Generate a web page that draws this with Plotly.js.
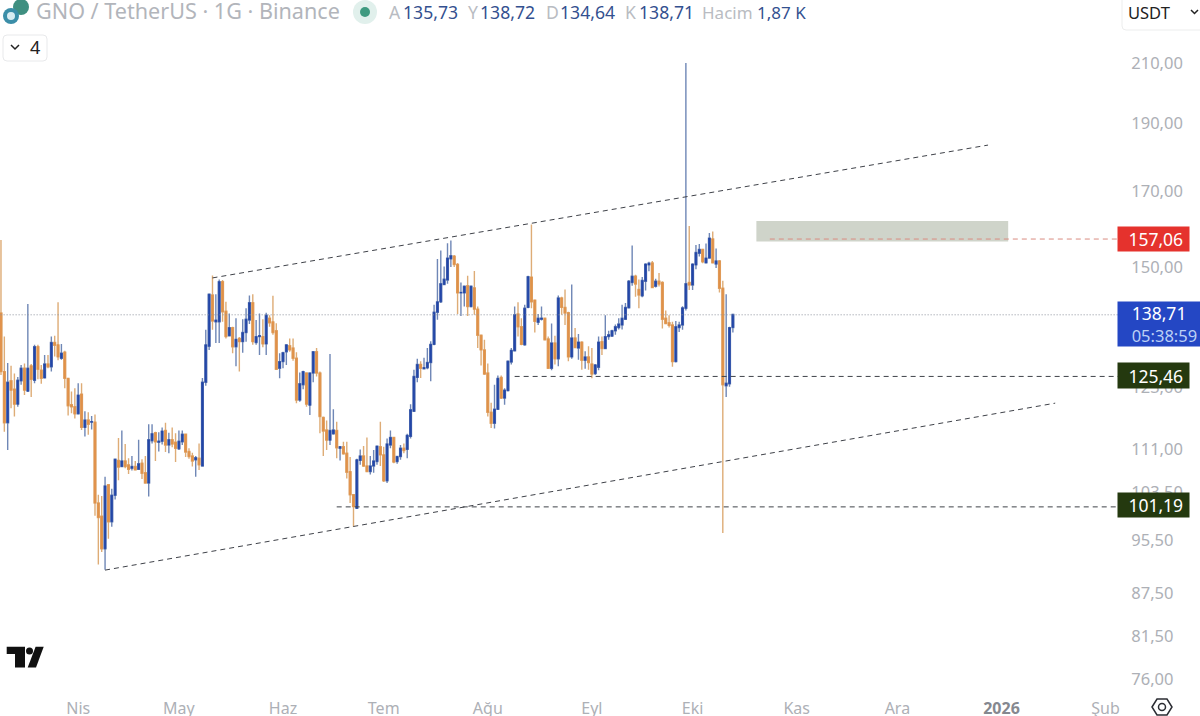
<!DOCTYPE html>
<html><head><meta charset="utf-8">
<script src="https://cdn.plot.ly/plotly-3.0.1.min.js"></script>
<style>html,body{margin:0;padding:0;background:#fff;overflow:hidden}#c{width:1200px;height:716px}</style>
</head><body><div id="c"></div>
<script>
const firstDay = '2025-03-09';
const opens = [139.0,126.2,116.0,124.3,122.6,119.6,124.3,126.9,122.2,127.4,
124.4,131.5,126.5,124.9,127.8,127.2,132.4,131.9,129.0,130.3,
124.8,119.5,119.1,117.7,121.6,115.1,116.5,116.1,116.1,101.6,
99.4,94.2,104.7,98.5,102.9,109.0,107.9,108.9,108.2,107.6,
107.9,107.4,108.5,106.8,105.0,112.6,114.1,112.3,112.5,114.5,
111.8,112.8,112.3,111.1,112.4,113.8,110.6,109.8,109.1,109.4,
108.0,124.0,131.6,143.2,137.0,137.0,146.4,139.4,133.9,135.7,
131.5,133.3,132.6,134.6,137.4,141.4,132.4,133.7,133.7,132.1,
137.8,137.0,135.0,126.9,128.3,130.4,131.7,131.2,129.0,120.4,
123.5,125.9,119.4,125.9,130.4,125.9,117.0,114.6,112.7,113.9,
114.5,111.2,111.5,110.3,107.0,103.0,100.7,109.0,109.8,108.0,
107.0,108.0,108.8,111.5,110.0,105.4,111.8,113.2,108.8,109.7,
111.2,111.0,113.4,118.2,125.0,127.7,126.8,127.0,128.1,132.0,
139.2,141.6,145.7,146.8,152.0,152.7,150.6,143.7,143.7,145.4,
140.5,144.9,139.9,134.0,130.8,125.9,118.0,115.9,118.6,125.0,
120.8,122.3,128.2,130.6,138.8,135.9,131.9,140.3,147.5,142.0,
136.9,137.6,137.8,133.2,126.9,132.3,128.9,142.5,140.3,139.1,
129.3,133.4,131.2,132.5,128.6,129.3,127.8,125.8,127.1,132.6,
131.1,133.7,133.8,135.0,135.7,136.3,137.6,140.2,146.2,147.7,
144.5,143.0,146.5,150.5,151.0,145.3,146.5,146.2,137.8,136.8,
136.3,128.3,135.7,136.3,140.1,146.2,145.6,150.5,153.4,154.4,
151.0,152.2,157.1,150.7,151.5,144.8,123.3,123.7,135.73];
const highs = [156.8,133.7,128.0,127.4,125.8,125.1,127.6,127.9,141.1,127.8,
131.9,131.9,127.6,129.7,129.7,133.7,133.9,141.5,132.1,130.6,
124.8,122.1,122.8,123.8,123.8,118.2,118.0,117.3,117.6,103.0,
102.8,106.1,104.7,104.0,109.2,113.1,114.5,112.0,109.4,109.8,
108.9,112.8,109.2,109.8,115.7,115.7,114.3,114.2,115.1,116.0,
114.1,115.1,114.0,114.5,114.5,113.9,111.2,110.4,109.8,112.1,
124.9,135.2,143.4,147.9,143.4,146.9,146.8,141.6,138.9,135.9,
137.8,133.6,137.6,140.1,143.1,143.4,137.4,138.9,137.6,139.1,
138.5,143.0,136.7,130.1,130.4,131.9,133.3,133.3,130.3,126.0,
126.4,125.9,125.9,130.4,131.2,126.2,117.2,116.4,129.9,118.6,
116.2,111.6,112.4,112.4,109.6,103.1,109.3,111.0,111.6,113.2,
109.8,110.9,111.6,116.2,111.5,113.0,114.5,113.3,109.8,111.8,
112.1,113.9,119.6,126.6,128.9,128.4,129.1,131.2,132.7,140.9,
152.0,154.1,150.1,156.0,156.7,153.0,151.0,146.2,145.3,147.8,
145.4,149.0,140.5,134.1,133.0,127.9,119.9,123.5,125.4,125.4,
122.8,128.4,131.2,140.5,141.5,137.8,140.9,147.8,160.9,142.1,
138.8,140.5,137.8,133.7,136.6,133.9,143.1,142.8,144.5,139.3,
145.7,135.6,134.3,132.7,130.5,131.6,131.2,127.8,133.7,133.7,
138.5,135.0,135.2,136.4,137.8,140.9,141.3,146.8,155.4,148.1,
146.9,147.5,150.9,151.3,151.5,147.1,148.5,146.5,139.6,138.5,
137.0,137.2,137.0,140.6,210.0,160.5,150.9,155.5,155.8,154.4,
155.9,158.6,159.0,154.6,151.7,146.6,143.4,135.9,138.72];
const lows = [125.5,114.3,110.9,118.8,117.2,119.1,123.5,121.4,122.0,121.0,
123.8,124.6,123.7,124.8,126.9,126.2,129.4,128.6,128.7,122.8,
117.4,117.8,116.8,117.6,114.6,113.4,113.7,114.7,99.5,91.8,
93.7,91.0,95.8,97.7,102.2,105.5,107.8,107.6,106.6,107.2,
107.2,107.3,105.7,104.9,102.7,112.1,108.9,110.6,111.9,110.5,
110.3,111.4,108.7,110.9,111.8,109.6,109.3,107.9,106.1,107.3,
107.9,123.3,130.8,135.2,132.3,132.3,137.0,133.3,133.7,130.1,
127.3,126.2,130.2,132.6,136.5,131.9,131.9,129.7,131.4,129.7,
135.9,134.1,126.7,124.8,126.9,127.6,130.4,128.5,119.8,120.1,
122.6,119.1,117.5,124.0,125.2,114.0,109.8,110.9,111.8,113.7,
109.4,109.0,110.0,105.8,101.6,97.7,100.6,108.2,107.8,106.9,
106.5,106.8,108.2,108.0,105.2,105.0,111.2,108.5,108.4,109.1,
110.3,109.4,113.0,118.1,124.0,124.9,126.7,126.7,124.2,131.8,
137.5,141.3,145.6,145.9,150.0,150.0,138.8,138.3,140.5,138.3,
140.3,138.6,131.2,127.5,125.5,117.2,115.0,114.9,118.5,120.6,
119.5,122.1,127.7,130.5,133.7,131.8,131.7,140.1,140.1,134.6,
136.3,137.3,132.9,126.8,126.5,127.7,127.3,138.6,136.3,128.4,
128.9,131.2,128.7,126.6,126.8,126.6,124.8,125.5,126.5,129.7,
131.0,133.0,133.7,134.1,135.3,135.3,137.4,140.1,145.4,142.8,
140.1,142.7,144.3,148.9,144.8,145.0,145.2,135.5,136.5,135.7,
127.2,128.1,134.7,135.2,139.6,144.4,144.4,149.4,152.6,150.9,
150.9,152.1,150.9,149.7,143.8,96.7,121.0,123.1,134.64];
const closes = [126.2,116.0,124.0,122.4,119.6,124.4,126.9,122.4,126.9,124.6,
131.5,126.7,124.8,127.8,127.2,132.4,131.8,129.3,130.1,124.8,
119.3,119.1,117.7,121.4,115.1,116.5,115.7,116.2,101.6,99.2,
94.2,104.5,98.5,102.9,109.2,107.8,108.9,107.9,107.4,107.9,
107.3,108.4,106.7,105.0,112.8,113.9,112.4,112.5,114.4,111.8,
112.8,112.0,111.2,112.5,113.8,110.5,109.7,108.9,109.5,108.2,
124.0,131.9,143.4,137.2,137.4,146.4,139.3,133.7,135.7,131.5,
133.1,132.6,134.6,137.6,141.4,132.6,133.7,133.9,132.1,138.5,
136.8,134.6,126.7,128.3,130.2,131.9,130.8,129.0,120.4,123.7,
126.2,119.6,125.9,130.4,125.9,117.2,114.4,112.7,114.5,114.6,
111.3,111.5,110.2,106.9,103.0,101.0,109.1,109.8,108.0,107.0,
108.0,108.9,111.6,110.0,105.4,112.0,113.2,108.7,109.7,111.2,
110.8,113.6,118.5,125.2,127.7,126.9,127.0,128.1,132.0,139.2,
141.6,145.9,147.0,152.2,152.8,150.6,143.7,143.8,145.3,140.5,
145.3,139.9,134.0,130.8,125.7,118.0,115.9,118.6,124.8,120.8,
122.4,128.4,130.7,138.6,135.9,132.0,140.1,147.6,141.6,137.1,
137.8,137.8,133.0,126.9,132.3,128.9,142.5,140.3,139.0,129.3,
133.4,131.3,132.5,128.6,129.3,128.1,125.7,127.6,132.5,131.1,
133.7,134.1,135.0,135.9,136.5,137.8,140.3,146.5,147.7,145.8,
143.2,146.7,150.7,150.9,145.0,146.5,145.8,137.6,136.6,136.2,
128.3,135.9,136.3,140.2,145.9,145.6,150.7,153.6,154.4,151.3,
152.2,157.3,151.0,151.5,144.8,123.5,123.8,135.7,138.71];

const monthDates = ['2025-04-01','2025-05-01','2025-06-01','2025-07-01','2025-08-01','2025-09-01','2025-10-01','2025-11-01','2025-12-01','2026-01-01','2026-02-01'];
const monthLabels = ['Nis','May','Haz','Tem','Ağu','Eyl','Eki','Kas','Ara','<b style="color:#85888f">2026</b>','Şub'];
const priceTicks = [210,190,170,150,123,111,103.5,95.5,87.5,81.5,76];
const priceLabels = ['210,00','190,00','170,00','150,00','123,00','111,00','103,50','95,50','87,50','81,50','76,00'];

const dates = opens.map((_, i) => new Date(Date.parse(firstDay + 'T00:00:00Z') + i * 864e5).toISOString().slice(0, 10));
const BLUE = '#2447a8', ORANGE = '#e0924a', BLUEW = '#6f87b6', ORANGEW = '#deac76';
const GRAY = '#adb0b6', NAVY = '#33508f', FONT = '"Noto Sans", Roboto, sans-serif';
const W = 1118, H = 692;
const X = p => p / W, Y = p => 1 - p / H;

const wicks = {type:'candlestick', x:dates, open:opens, high:highs, low:lows, close:closes,
  increasing:{line:{color:BLUEW,width:1.4},fillcolor:BLUEW}, decreasing:{line:{color:ORANGEW,width:1.4},fillcolor:ORANGEW},
  hoverinfo:'skip', showlegend:false};
const bodies = {type:'candlestick', x:dates, open:opens, close:closes,
  high:opens.map((o,i)=>Math.max(o,closes[i])), low:opens.map((o,i)=>Math.min(o,closes[i])),
  increasing:{line:{color:BLUE,width:0.6},fillcolor:BLUE}, decreasing:{line:{color:ORANGE,width:0.6},fillcolor:ORANGE},
  hoverinfo:'skip', showlegend:false};

const line = (x0,y0,x1,y1,color,dash) => ({type:'line',xref:'x',yref:'y',x0,y0,x1,y1,line:{color,width:1,dash}});
const dark = '#3f4249';
const shapes = [
  {type:'rect',xref:'x',yref:'y',x0:'2025-10-20',x1:'2026-01-03',y0:156.4,y1:161.8,fillcolor:'#cfd4ca',line:{width:0},layer:'below'},
  line('2025-05-11',147.3,'2025-12-28',183.4,dark,'5px,4px'),
  line('2025-04-09',90.95,'2026-01-17',119.8,dark,'5px,4px'),
  line('2025-08-09',125.2,'2026-02-05',125.2,dark,'5px,4px'),
  line('2025-06-17',100.95,'2026-02-05',100.95,dark,'5px,4px'),
  line('2025-10-24',157.06,'2026-02-05',157.06,'#d98b80','5px,4px'),
  line('2025-03-08',138.6,'2026-02-05',138.6,'#8d929c','1px,2px')
];
const pc = (type,x0,y0,x1,y1,fill) => ({type,xref:'paper',yref:'paper',x0:X(x0),y0:Y(y0),x1:X(x1),y1:Y(y1),fillcolor:fill,line:{width:0}});
const poly = (pts,fill,stroke) => ({type:'path',xref:'paper',yref:'paper',
  path:'M'+pts.map(p=>X(p[0])+','+Y(p[1])).join('L')+'Z',fillcolor:fill,line:stroke?{color:stroke,width:1.5}:{width:0}});
const openPath = (pts,stroke,w) => ({type:'path',xref:'paper',yref:'paper',
  path:'M'+pts.map(p=>X(p[0])+','+Y(p[1])).join('L'),line:{color:stroke,width:w}});
shapes.push(
  // symbol logo and market dot
  pc('circle',13,-1,29,15,'#3f8f80'), pc('circle',3,8,19,24,'#3b8ea8'), pc('circle',7,12,15,20,'#d8ecf2'),
  pc('circle',353,0,377,24,'#e1f0ec'), pc('circle',360,7,370,17,'#3f9a80'),
  // TradingView mark
  poly([[6.7,646.7],[25,646.7],[25,667.5],[15,667.5],[15,654],[6.7,654]],'#111'),
  pc('circle',26,647.5,33,654.5,'#111'),
  poly([[35.6,646.7],[43.7,646.7],[36,667.5],[27.7,667.5]],'#111'),
  // settings icon
  poly([[1152,707],[1157,699],[1167,699],[1172,707],[1167,715],[1157,715]],'#fff','#2b2d33'),
  {type:'circle',xref:'paper',yref:'paper',x0:X(1158.5),x1:X(1165.5),y0:Y(703.5),y1:Y(710.5),line:{color:'#2b2d33',width:1.5}},
  // chevrons
  openPath([[11,45],[15,49],[19,45]],'#222',1.5),
  openPath([[1191,10],[1194.5,13.5],[1198,10]],'#222',1.5),
  // control boxes
  {type:'path',xref:'paper',yref:'paper',path:`M${X(7)},${Y(35)}L${X(43)},${Y(35)}Q${X(47)},${Y(35)} ${X(47)},${Y(39)}L${X(47)},${Y(57)}Q${X(47)},${Y(61)} ${X(43)},${Y(61)}L${X(7)},${Y(61)}Q${X(3)},${Y(61)} ${X(3)},${Y(57)}L${X(3)},${Y(39)}Q${X(3)},${Y(35)} ${X(7)},${Y(35)}Z`,line:{color:'#e8e9eb',width:1}},
  {type:'path',xref:'paper',yref:'paper',path:`M${X(1122)},${Y(-2)}L${X(1122)},${Y(26)}Q${X(1122)},${Y(30)} ${X(1126)},${Y(30)}L${X(1200)},${Y(30)}`,line:{color:'#eceded',width:1}}
);

const txt = (text,x,y,color,size,extra) => Object.assign({text,xref:'paper',yref:'paper',x:X(x),y:Y(y),xanchor:'left',yanchor:'middle',
  showarrow:false,font:{family:FONT,size,color},borderpad:0},extra||{});
const badge = (text,price,bg,w,h,shift,al) => ({text,xref:'paper',yref:'y',x:1,xshift:-1,y:Math.log10(price),yshift:shift||0,
  xanchor:'left',yanchor:'middle',showarrow:false,bgcolor:bg,width:w,height:h,align:al||'center',borderpad:0,
  font:{family:FONT,size:17.5,color:'#fff'}});
const NB = '\u00A0';
const annotations = [
  txt('GNO / TetherUS · 1G · Binance',35,11,'#b2b5bb',21.6),
  txt('A',388,12,'#b9bcc2',17.6), txt('135,73',402,12,NAVY,17.6),
  txt('Y',467,12,'#b9bcc2',17.6), txt('138,72',479,12,NAVY,17.6),
  txt('D',545,12,'#b9bcc2',17.6), txt('134,64',559,12,NAVY,17.6),
  txt('K',624,12,'#b9bcc2',17.6), txt('138,71',638,12,NAVY,17.6),
  txt('Hacim',701,12,'#b9bcc2',17), txt('1,87 K',756,12,NAVY,17),
  txt('4',29,47,'#222',18),
  txt('USDT',1127,12,'#222',16.5),
  badge(NB+'157,06',157.06,'#e5322d',71,24),
  badge(NB+NB+NB+'138,71<br>'+NB+NB+NB+'<span style="color:#bcd0f5;font-size:16.5px">05:38:59</span>',138.71,'#2447c4',83,44,-10,'left'),
  badge(NB+'125,46',125.46,'#24390f',71,25),
  badge(NB+'101,19',101.19,'#24390f',71,24)
];

const layout = {
  width:1200, height:716, margin:{l:0,r:82,t:0,b:24,pad:0}, paper_bgcolor:'#fff', plot_bgcolor:'#fff',
  showlegend:false, hovermode:false, dragmode:false, boxgap:0.25,
  font:{family:FONT,color:GRAY},
  xaxis:{type:'date',range:['2025-03-08 17:00','2026-02-04 17:00'],rangeslider:{visible:false},
    tickmode:'array',tickvals:monthDates,ticktext:monthLabels,showgrid:false,zeroline:false,showline:false,
    ticks:'outside',ticklen:2,tickcolor:'rgba(0,0,0,0)',tickfont:{family:FONT,size:16,color:GRAY},automargin:false},
  yaxis:{type:'log',side:'right',range:[1.87145,2.36737],tickmode:'array',tickvals:priceTicks,ticktext:priceLabels,
    showgrid:false,zeroline:false,showline:false,ticks:'outside',ticklen:9,tickcolor:'rgba(0,0,0,0)',
    tickfont:{family:FONT,size:16.5,color:GRAY},automargin:false},
  shapes, annotations
};
Plotly.newPlot('c',[wicks,bodies],layout,{displayModeBar:false,staticPlot:true});
</script></body></html>
